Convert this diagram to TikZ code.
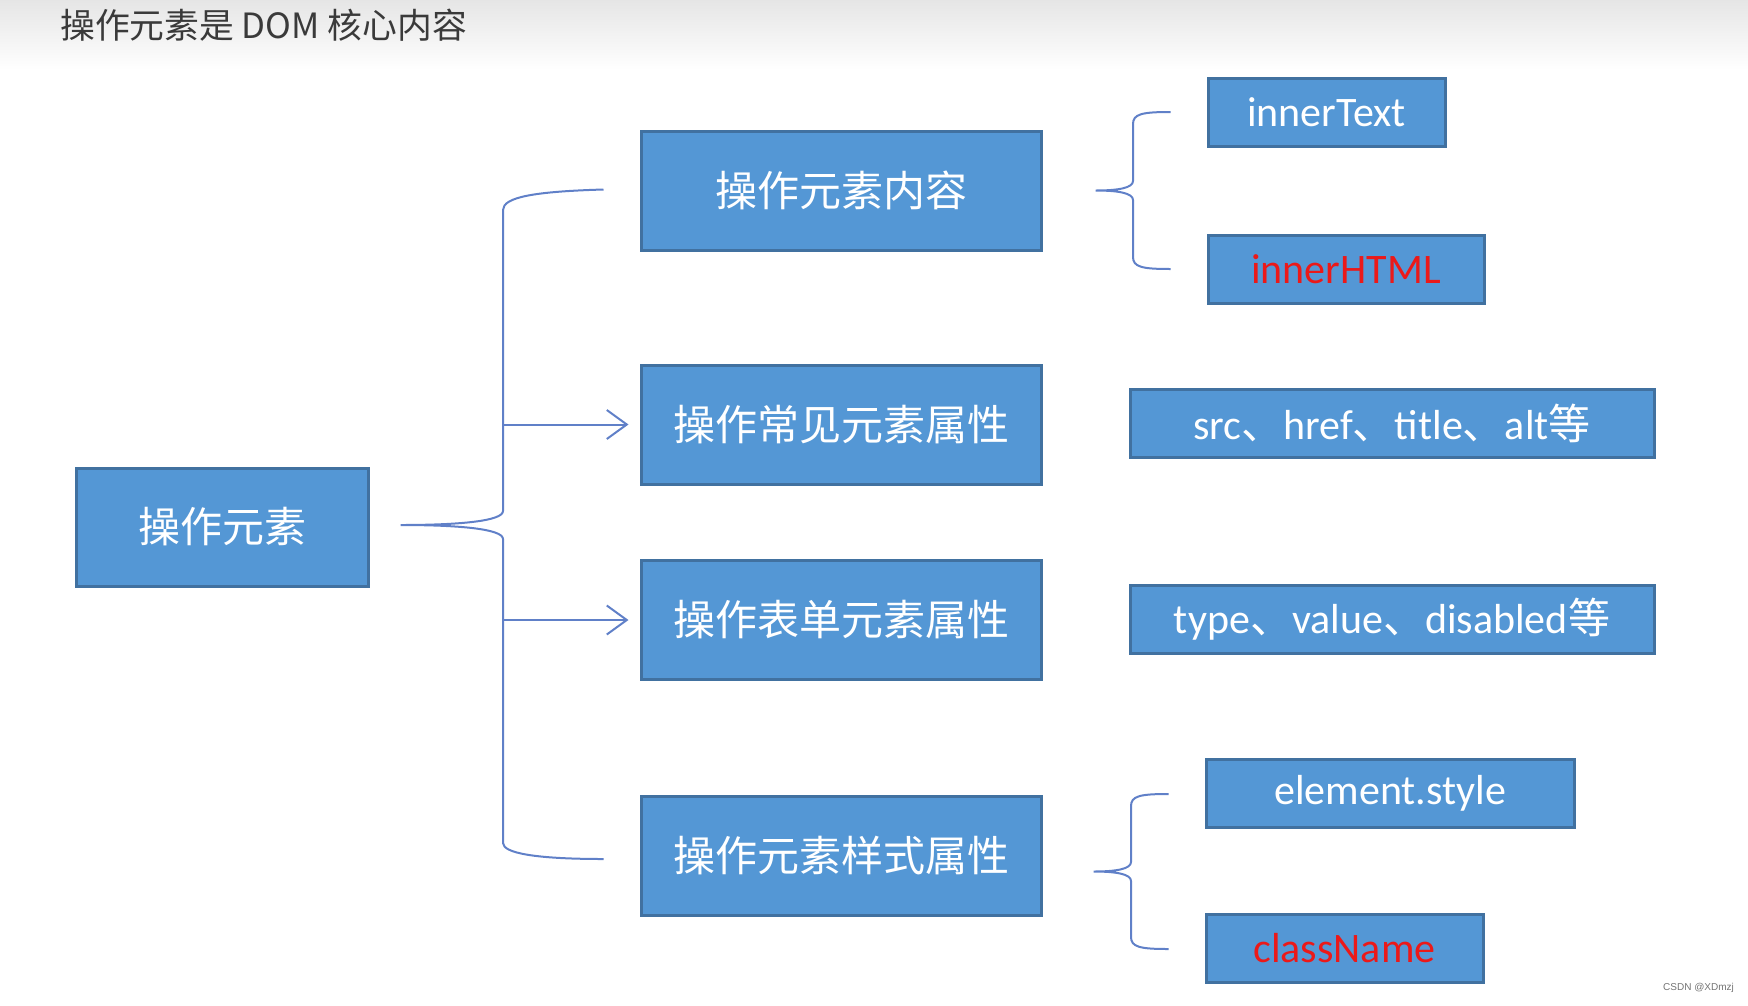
\documentclass[tikz,border=0pt]{standalone}
\usepackage{fontspec}
\setmainfont{Carlito}
\newfontfamily\cjk{Noto Sans CJK SC}
\newfontfamily\wmfont{Liberation Sans}
\usepackage{tikz}
\usetikzlibrary{positioning, arrows.meta, calc}

\definecolor{boxfill}{RGB}{84,151,213}
\definecolor{boxline}{RGB}{65,113,160}
\definecolor{bracecol}{RGB}{96,128,200}
\definecolor{hlred}{RGB}{235,25,25}
\definecolor{titlegray}{RGB}{58,58,58}

\begin{document}
\begin{tikzpicture}[x=1pt, y=-1pt,
    box/.style={draw=boxline, line width=3pt, fill=boxfill, text=white,
      minimum width=400pt, minimum height=119pt, inner sep=0pt,
      font=\fontsize{42}{50}\selectfont},
    leaf/.style={box, minimum width=0pt, minimum height=68pt},
    braceline/.style={draw=bracecol, line width=2pt},
    arr/.style={braceline, -{Straight Barb[length=20pt, width=29pt]}, shorten >=11pt}]
    \useasboundingbox (0,0) rectangle (1748,1005);
    % Title bar
    \shade[top color=black!10, bottom color=white] (0,0) rectangle (1748,70);
    \node[anchor=west, text=titlegray, inner sep=0pt,
      font=\cjk\fontsize{34.8}{40}\selectfont] (title) at (60,25) {操作元素是 DOM 核心内容};

    % Draw the boxes
    \node[box, minimum width=292pt, minimum height=118pt] (root) at (222,527) {\cjk 操作元素};
    \node[box] (content) at (841,190.5) {\cjk 操作元素内容};
    \node[box] (attr) at (841,424.5) {\cjk 操作常见元素属性};
    \node[box] (form) at (841,620) {\cjk 操作表单元素属性};
    \node[box] (styleattr) at (841,855.5) {\cjk 操作元素样式属性};

    \node[leaf, minimum width=237pt] (innertext) at (1326.5,112) {innerText};
    \node[leaf, minimum width=276pt, text=hlred] (innerhtml) at (1346,269) {innerHTML};
    \node[leaf, minimum width=524pt] (common) at (1392,423) {src{\cjk 、}href{\cjk 、}title{\cjk 、}alt{\cjk 等}};
    \node[leaf, minimum width=524pt] (formlist) at (1392,619.5) {type{\cjk 、}value{\cjk 、}disabled{\cjk 等}};
    \node[leaf, minimum width=368pt] (elstyle) at (1390,793) {element.style};
    \node[leaf, minimum width=277pt, text=hlred] (classname) at (1344.5,948) {className};

    % Big brace from the root to the four boxes
    \coordinate (bigtip) at ($(root.east)+(31,-2)$);
    \coordinate (bigtop) at ($(content.west)+(-36,-1)$);
    \coordinate (bigbot) at ($(styleattr.west)+(-36,3.5)$);
    \coordinate (spine) at (503,0);
    \draw[braceline] (bigtop) .. controls (535,191.5) and (503,197) .. (503,210)
      -- (503,511) .. controls (503,521) and (460,525) .. (bigtip)
      .. controls (460,525) and (503,529) .. (503,539)
      -- (503,843) .. controls (503,853) and (535,859) .. (bigbot);
    \draw[arr] (spine |- attr.west) -- (attr.west);
    \draw[arr] (spine |- form.west) -- (form.west);

    % Small brace to innerText / innerHTML
    \coordinate (tipa) at ($(content.east)+(53,0)$);
    \draw[braceline] ($(innertext.west)+(-36,0)$) .. controls (1142,112) and (1133,114) .. (1133,124)
      -- (1133,181) .. controls (1133,188) and (1118,190.5) .. (tipa)
      .. controls (1118,190.5) and (1133,193) .. (1133,200)
      -- (1133,257) .. controls (1133,267) and (1142,269) .. ($(innerhtml.west)+(-36,0)$);

    % Small brace to element.style / className
    \coordinate (tipb) at ($(styleattr.east)+(51,16)$);
    \draw[braceline] ($(elstyle.west)+(-36,1)$) .. controls (1140,794) and (1131,796) .. (1131,806)
      -- (1131,862) .. controls (1131,869) and (1116,871.5) .. (tipb)
      .. controls (1116,871.5) and (1131,874) .. (1131,881)
      -- (1131,937) .. controls (1131,947) and (1140,949) .. ($(classname.west)+(-36,1)$);

    % Watermark
    \node[anchor=west, inner sep=0pt, text=black!55, font=\wmfont\fontsize{10}{12}\selectfont]
      (mark) at (1663,988) {CSDN @XDmzj};
  \end{tikzpicture}
\end{document}
